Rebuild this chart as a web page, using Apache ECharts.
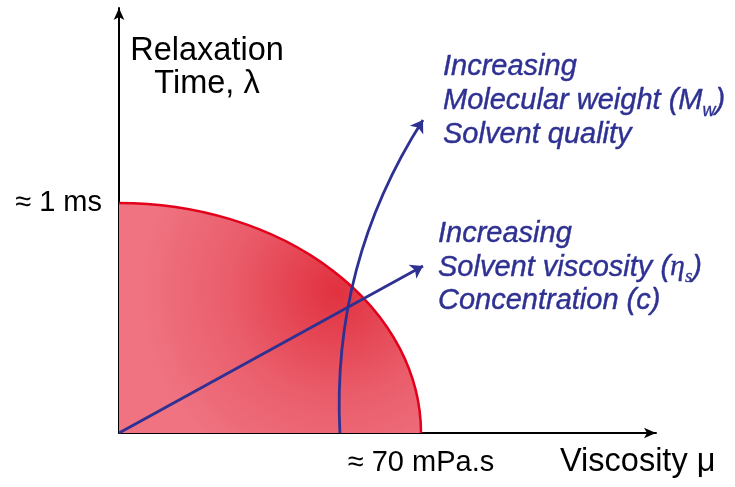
<!DOCTYPE html>
<html>
<head>
<meta charset="utf-8">
<script src="https://cdn.jsdelivr.net/npm/echarts@6/dist/echarts.min.js"></script>
<style>html,body{margin:0;padding:0;background:#fff}#c{width:735px;height:487px}</style>
</head>
<body>
<div id="c"></div>
<script>
// ---- data ----
const xAxisMax = 124.47;         // viscosity axis extent (mPa.s)
const yAxisMax = 1.848;          // relaxation time axis extent (ms)
const xTickValues = [70];
const xTickLabels = ['≈ 70 mPa.s'];
const yTickValues = [1];
const yTickLabels = ['≈ 1 ms'];
const regionExtent = [70, 1];    // quarter-ellipse: viscosity radius, time radius
const straightArrow = [[0, 0], [70.46, 0.726]];
const curvedArrow = [[51.2, 0], [70.46, 1.361]];
const xAxisTitle = 'Viscosity μ';
const yAxisTitle = ['Relaxation', 'Time, λ'];
// each line: list of [style, text] pieces
const groupA = [
  [['n', 'Increasing']],
  [['n', 'Molecular weight (M'], ['s', 'w'], ['n', ')']],
  [['n', 'Solvent quality']]
];
const groupB = [
  [['n', 'Increasing']],
  [['n', 'Solvent viscosity ('], ['e', 'η'], ['es', 's'], ['n', ')']],
  [['n', 'Concentration (c)']]
];

const BLUE = '#2e3192';
const chart = echarts.init(document.getElementById('c'), null, {renderer: 'canvas'});

function lookup(vals, labs) {
  return function (v) {
    for (let i = 0; i < vals.length; i++) if (Math.abs(vals[i] - v) < 1e-9) return labs[i];
    return '';
  };
}

const blueFont = 'italic 29px "Liberation Sans", Arial, sans-serif';
const blueRich = {
  n: {font: blueFont, fill: BLUE, lineHeight: 30, stroke: BLUE, lineWidth: 0.4},
  s: {font: 'italic 18px "Liberation Sans", Arial, sans-serif', fill: BLUE, verticalAlign: 'bottom', lineHeight: 38, stroke: BLUE, lineWidth: 0.3},
  e: {font: 'italic 30px "Liberation Serif", serif', fill: BLUE, lineHeight: 30, stroke: BLUE, lineWidth: 0.3},
  es: {font: 'italic 19px "Liberation Serif", serif', fill: BLUE, verticalAlign: 'bottom', lineHeight: 38, stroke: BLUE, lineWidth: 0.3}
};

function blueLines(lines, x, y0, step) {
  return lines.map((pieces, i) => ({
    type: 'text',
    x: x, y: y0 + i * step,
    style: {
      text: pieces.map(p => '{' + p[0] + '|' + p[1] + '}').join(''),
      rich: blueRich,
      fill: BLUE,
      font: blueFont,
      align: 'left',
      verticalAlign: 'middle'
    }
  }));
}

const option = {
  animation: false,
  grid: {left: 119, right: 79, top: 8, bottom: 54, containLabel: false},
  xAxis: {
    type: 'value', min: 0, max: xAxisMax, interval: 70,
    axisLine: {show: true, lineStyle: {color: '#000', width: 2}, symbol: ['none', 'arrow'], symbolSize: [8, 12]},
    axisTick: {show: false},
    splitLine: {show: false},
    axisLabel: {
      show: true, margin: 15, color: '#000',
      fontFamily: '"Liberation Sans", Arial, sans-serif', fontSize: 29,
      formatter: lookup(xTickValues, xTickLabels)
    }
  },
  yAxis: {
    type: 'value', min: 0, max: yAxisMax, interval: 1,
    axisLine: {show: true, lineStyle: {color: '#000', width: 2}, symbol: ['none', 'arrow'], symbolSize: [8, 12]},
    axisTick: {show: false},
    splitLine: {show: false},
    axisLabel: {
      show: true, margin: 17, color: '#000', padding: [12, 0, 0, 0],
      fontFamily: '"Liberation Sans", Arial, sans-serif', fontSize: 29,
      formatter: lookup(yTickValues, yTickLabels)
    }
  },
  series: [
    {
      type: 'custom',
      coordinateSystem: 'cartesian2d',
      z: 1,
      data: [regionExtent],
      renderItem: function (params, api) {
        const o = api.coord([0, 0]);
        const px = api.coord([api.value(0), 0]);
        const py = api.coord([0, api.value(1)]);
        const rx = px[0] - o[0], ry = o[1] - py[1];
        const arc = 'M' + o[0] + ' ' + py[1] + ' A' + rx + ' ' + ry + ' 0 0 1 ' + px[0] + ' ' + o[1];
        return {
          type: 'group',
          children: [
            {
              type: 'path',
              shape: {pathData: 'M' + o[0] + ' ' + o[1] + ' L' + o[0] + ' ' + py[1] + ' A' + rx + ' ' + ry + ' 0 0 1 ' + px[0] + ' ' + o[1] + ' Z'},
              style: {
                fill: new echarts.graphic.RadialGradient(0.72, 0.38, 0.85, [
                  {offset: 0, color: '#e1313f'},
                  {offset: 0.55, color: '#ea5d6b'},
                  {offset: 1, color: '#ef7381'}
                ]),
                stroke: null
              }
            },
            {
              type: 'path',
              shape: {pathData: arc},
              style: {fill: null, stroke: '#e2001a', lineWidth: 2.5}
            }
          ]
        };
      }
    },
    {
      type: 'lines',
      coordinateSystem: 'cartesian2d',
      z: 3,
      symbol: ['none', 'arrow'],
      symbolSize: 12,
      lineStyle: {color: BLUE, width: 2.8, opacity: 1},
      data: [
        {coords: straightArrow, lineStyle: {curveness: 0}},
        {coords: curvedArrow, lineStyle: {curveness: 0.16}}
      ]
    }
  ],
  graphic: [
    {
      type: 'text', x: 207, y: 68,
      style: {
        text: yAxisTitle.join('\n'), fill: '#000',
        font: '32.5px "Liberation Sans", Arial, sans-serif',
        lineHeight: 33, align: 'center', verticalAlign: 'middle'
      }
    },
    {
      type: 'text', x: 560, y: 462,
      style: {
        text: xAxisTitle, fill: '#000',
        font: '32.5px "Liberation Sans", Arial, sans-serif',
        align: 'left', verticalAlign: 'middle'
      }
    }
  ].concat(blueLines(groupA, 443, 67, 34)).concat(blueLines(groupB, 438, 234, 33.5))
};
chart.setOption(option);
</script>
</body>
</html>
